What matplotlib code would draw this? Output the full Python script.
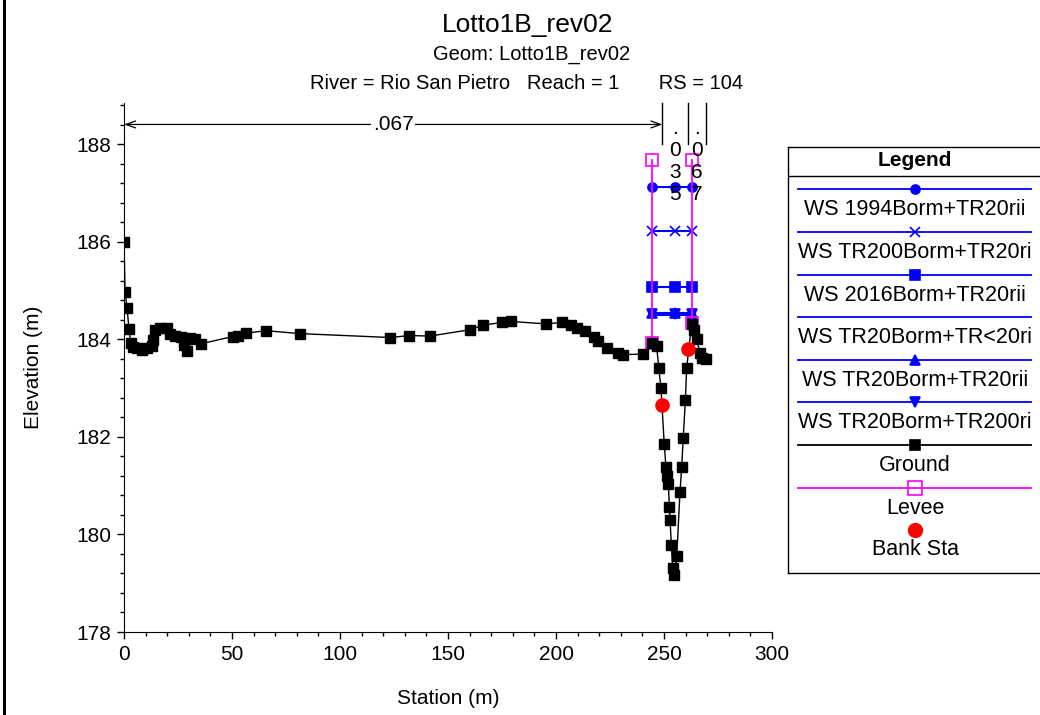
import matplotlib
matplotlib.use("Agg")
import matplotlib.pyplot as plt
from matplotlib.lines import Line2D
from matplotlib.ticker import MultipleLocator

plt.rcParams['font.family'] = ['Liberation Sans', 'DejaVu Sans']

# ---------------- data ----------------
title = "Lotto1B_rev02"
subtitle1 = "Geom: Lotto1B_rev02"
subtitle2 = "River = Rio San Pietro   Reach = 1       RS = 104"

ground_sta = [0, 0.5, 1.4, 2.3, 3.1, 4.3, 5.9, 8.2, 10.5, 12.8, 13.3, 14.4, 16.7,
              19.8, 21.3, 23.6, 26.2, 27.8, 29.0, 30.6, 32.9, 35.5, 50.3, 52.9,
              56.5, 65.7, 81.5, 123.3, 132.0, 141.7, 160.2, 166.0, 174.9, 179.0,
              195.4, 202.6, 206.8, 209.6, 213.6, 217.6, 219.6, 223.8, 228.8, 231.2,
              240.4, 244.3, 246.6, 247.6, 248.6, 250.1, 250.9, 251.5, 252.0, 252.5,
              252.8, 253.4, 254.0, 254.8, 255.9, 257.4, 258.2, 258.9, 259.9, 260.5,
              262.8, 264.0, 265.1, 266.7, 267.8, 269.4]
ground_elev = [186.0, 184.97, 184.65, 184.22, 183.93, 183.85, 183.83, 183.79, 183.83,
               183.87, 183.98, 184.2, 184.24, 184.24, 184.11, 184.08, 184.05, 183.89,
               183.76, 184.03, 184.0, 183.91, 184.06, 184.08, 184.13, 184.18, 184.12,
               184.04, 184.08, 184.07, 184.2, 184.29, 184.35, 184.37, 184.32, 184.35,
               184.3, 184.24, 184.17, 184.06, 183.96, 183.83, 183.72, 183.69, 183.70,
               183.92, 183.86, 183.41, 183.0, 181.86, 181.38, 181.19, 181.04, 180.57,
               180.3, 179.79, 179.31, 179.17, 179.55, 180.87, 181.39, 181.98, 182.76,
               183.42, 184.32, 184.2, 184.0, 183.73, 183.62, 183.59]

levee_left_sta = [244.3, 244.3]
levee_left_elev = [183.93, 187.68]
levee_right_sta = [262.9, 262.9]
levee_right_elev = [184.34, 187.68]

bank_sta = [249.2, 261.3]
bank_elev = [182.65, 183.80]

ws_sta = [244.3, 254.9, 262.9]
ws_names = ["WS 1994Borm+TR20rii", "WS TR200Borm+TR20ri", "WS 2016Borm+TR20rii",
            "WS TR20Borm+TR<20ri", "WS TR20Borm+TR20rii", "WS TR20Borm+TR200ri"]
ws_elev = [187.12, 186.22, 185.08, 184.51, 184.55, 184.53]
ws_markers = ["o", "x", "s", None, "^", "v"]

mann_n = [".067", ".035", ".067"]
mann_bounds = [0.0, 249.3, 261.3, 269.4]

BLUE = "#0000ff"
MAG = "#ff00ff"
RED = "#ff0000"

# ---------------- figure ----------------
fig = plt.figure(figsize=(10.4, 7.15), dpi=100)
ax = fig.add_axes([124 / 1040, 1 - 632 / 715, (772 - 124) / 1040, (632 - 103) / 715])

for name, elev, mk in zip(ws_names, ws_elev, ws_markers):
    ax.plot(ws_sta, [elev] * len(ws_sta), color=BLUE, lw=1.5,
            marker=mk if mk else "None", ms=6.5, mew=1.2, zorder=3)

ax.plot(levee_left_sta, levee_left_elev, color=MAG, lw=1.3, marker="s", ms=9,
        mfc="none", mec=MAG, mew=1.2, zorder=4)
ax.plot(levee_right_sta, levee_right_elev, color=MAG, lw=1.3, marker="s", ms=9,
        mfc="none", mec=MAG, mew=1.2, zorder=4)

ax.plot(ground_sta, ground_elev, color="black", lw=1.0, marker="s", ms=7, zorder=5)
ax.plot(bank_sta, bank_elev, ls="None", marker="o", ms=9.5, color=RED, zorder=6)

ax.set_xlim(0, 300)
ax.set_ylim(178, 188.85)
ax.xaxis.set_major_locator(MultipleLocator(50))
ax.xaxis.set_minor_locator(MultipleLocator(10))
ax.yaxis.set_major_locator(MultipleLocator(2))
ax.yaxis.set_minor_locator(MultipleLocator(0.4))
ax.tick_params(which="major", direction="out", length=5, width=1, labelsize=15, pad=4)
ax.tick_params(which="minor", direction="out", length=3, width=1)
for s in ["top", "right"]:
    ax.spines[s].set_visible(False)
ax.set_xlabel("Station (m)", fontsize=15, labelpad=18)
ax.set_ylabel("Elevation (m)", fontsize=15, labelpad=24)

# Manning's n annotations at top
y_arrow = 188.41
ax.annotate("", xy=(mann_bounds[0], y_arrow), xytext=(mann_bounds[1], y_arrow),
            arrowprops=dict(arrowstyle="<->,head_length=0.7,head_width=0.25",
                            color="black", lw=0.9, shrinkA=0, shrinkB=0))
ax.text((mann_bounds[0] + mann_bounds[1]) / 2, y_arrow, mann_n[0], ha="center",
        va="center", fontsize=15, bbox=dict(facecolor="white", edgecolor="none", pad=1))
for b in mann_bounds[1:]:
    ax.plot([b, b], [188.0, 188.85], color="black", lw=1.0, clip_on=False)
for i in (1, 2):
    xc = (mann_bounds[i] + mann_bounds[i + 1]) / 2
    ax.text(xc, 188.52, "\n".join(mann_n[i]), ha="center", va="top", fontsize=15,
            linespacing=1.2, zorder=7)

# titles
fig.text(528 / 1040, 1 - 31.7 / 715, title, ha="center", va="baseline", fontsize=19)
fig.text(532 / 1040, 1 - 60 / 715, subtitle1, ha="center", va="baseline", fontsize=14.5)
fig.text(527 / 1040, 1 - 89.3 / 715, subtitle2, ha="center", va="baseline", fontsize=14.5)

# left frame line
fig.add_artist(Line2D([3.5 / 1040, 3.5 / 1040], [0, 1], color="black", lw=2.2,
                      transform=fig.transFigure))

# ---------------- legend box ----------------
lax = fig.add_axes([788 / 1040, 1 - 573 / 715, (1040 - 788) / 1040, (573 - 146.7) / 715])
lax.set_xlim(788, 1040)
lax.set_ylim(573, 146.7)
lax.set_xticks([])
lax.set_yticks([])
lax.spines["right"].set_visible(False)
for s in ["left", "top", "bottom"]:
    lax.spines[s].set_linewidth(1.0)
lax.text(915, 160, "Legend", ha="center", va="center", fontsize=15, fontweight="bold")
lax.plot([788, 1040], [176, 176], color="black", lw=1.0)

leg_items = []
for name, mk in zip(ws_names, ws_markers):
    leg_items.append((name, BLUE, mk, BLUE, BLUE, 6.5))
leg_items.append(("Ground", "black", "s", "black", "black", 7))
leg_items.append(("Levee", MAG, "s", "none", MAG, 10))
line_y0 = 189.3
step = 42.6
for i, (name, col, mk, mfc, mec, ms) in enumerate(leg_items):
    y = line_y0 + i * step
    lax.plot([798, 1031], [y, y], color=col, lw=1.3)
    if mk:
        lax.plot([915], [y], marker=mk, ms=ms, mfc=mfc, mec=mec, mew=1.2, ls="None")
    lax.text(915, y + 20.5, name, ha="center", va="center", fontsize=15.5)
yb = line_y0 + 8 * step
lax.plot([915], [yb], marker="o", ms=10, color=RED, ls="None")
lax.text(915, yb + 19.5, "Bank Sta", ha="center", va="center", fontsize=15.5)

fig.savefig("out.png", dpi=100)
